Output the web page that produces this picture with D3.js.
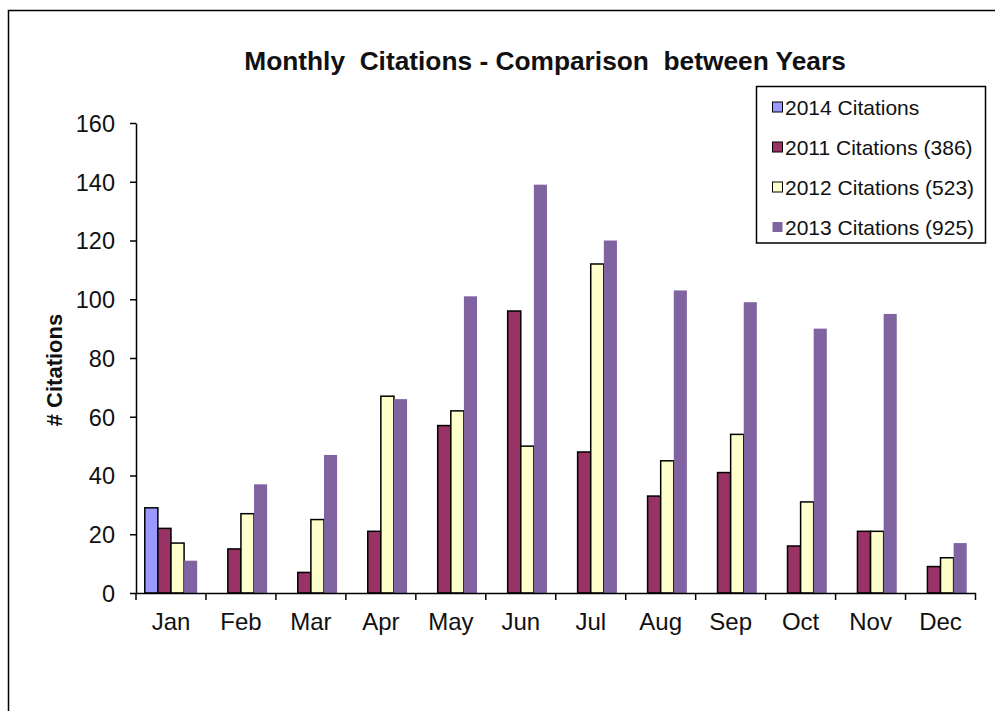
<!DOCTYPE html>
<html>
<head>
<meta charset="utf-8">
<script src="https://cdn.jsdelivr.net/npm/d3@7"></script>
<style>
  html, body { margin: 0; padding: 0; background: #fff; }
  svg { display: block; font-family: "Liberation Sans", Arial, sans-serif; }
</style>
</head>
<body>
<svg id="chart" width="995" height="711"></svg>
<script>
const months = ["Jan","Feb","Mar","Apr","May","Jun","Jul","Aug","Sep","Oct","Nov","Dec"];
const seriesNames = ["2014 Citations","2011 Citations (386)","2012 Citations (523)","2013 Citations (925)"];
const c2014 = [29, null, null, null, null, null, null, null, null, null, null, null];
const c2011 = [22, 15, 7, 21, 57, 96, 48, 33, 41, 16, 21, 9];
const c2012 = [17, 27, 25, 67, 62, 50, 112, 45, 54, 31, 21, 12];
const c2013 = [11, 37, 47, 66, 101, 139, 120, 103, 99, 90, 95, 17];
const yTicks = [0, 20, 40, 60, 80, 100, 120, 140, 160];
const colors = ["#9999FF", "#993366", "#FFFFCC", "#8064A2"];
const strokes = ["#000", "#000", "#000", "none"];

const seriesValues = [c2014, c2011, c2012, c2013];

const svg = d3.select("#chart");

// outer frame
svg.append("rect").attr("x", 8.5).attr("y", 10.5).attr("width", 1100).attr("height", 800)
  .attr("fill", "#fff").attr("stroke", "#000").attr("stroke-width", 1.5);

const x0 = d3.scaleBand().domain(months).range([136, 975.5]).padding(0);
const x1 = d3.scaleBand().domain(d3.range(4)).range([0, x0.bandwidth()]).paddingInner(0).paddingOuter(0.67);
const y = d3.scaleLinear().domain([0, 160]).range([593, 123]);

// bars
const data = [];
months.forEach((m, i) => {
  seriesValues.forEach((s, k) => {
    if (s[i] != null) data.push({ m, k, v: s[i] });
  });
});
svg.append("g").selectAll("rect").data(data).join("rect")
  .attr("x", d => x0(d.m) + x1(d.k))
  .attr("width", x1.bandwidth())
  .attr("y", d => y(d.v))
  .attr("height", d => y(0) - y(d.v))
  .attr("fill", d => colors[d.k])
  .attr("stroke", d => strokes[d.k])
  .attr("stroke-width", 1.5);

// y axis
const yAxis = svg.append("g").attr("transform", "translate(136,0)")
  .call(d3.axisLeft(y).tickValues(yTicks).tickSize(6).tickSizeOuter(0).tickPadding(15));
yAxis.select(".domain").attr("stroke", "#000").attr("stroke-width", 1.5);
yAxis.selectAll(".tick line").attr("stroke", "#000").attr("stroke-width", 1.5);
yAxis.selectAll(".tick text").attr("font-size", 23.5).attr("fill", "#111")
  .attr("font-family", "Liberation Sans, Arial, sans-serif").attr("dy", "0.36em");

// x axis
const xAxis = svg.append("g").attr("transform", "translate(0,593)")
  .call(d3.axisBottom(x0).tickSize(0).tickPadding(20));
xAxis.select(".domain").attr("stroke", "#000").attr("stroke-width", 1.5);
xAxis.selectAll(".tick text").attr("font-size", 24).attr("fill", "#111")
  .attr("font-family", "Liberation Sans, Arial, sans-serif");
// boundary ticks
const bounds = months.map(m => x0(m)).concat([x0(months[months.length - 1]) + x0.bandwidth()]);
xAxis.append("g").selectAll("line").data(bounds).join("line")
  .attr("x1", d => d).attr("x2", d => d).attr("y1", 0).attr("y2", 7)
  .attr("stroke", "#000").attr("stroke-width", 1.5);

// title
svg.append("text").attr("x", 545).attr("y", 70).attr("text-anchor", "middle")
  .attr("font-size", 26.3).attr("font-weight", "bold").attr("fill", "#111")
  .style("white-space", "pre")
  .text("Monthly  Citations - Comparison  between Years");

// y axis title
svg.append("text").attr("transform", "translate(62,370) rotate(-90)")
  .attr("text-anchor", "middle").attr("font-size", 22).attr("font-weight", "bold").attr("fill", "#111")
  .text("# Citations");

// legend
const lg = svg.append("g");
lg.append("rect").attr("x", 756.5).attr("y", 86.5).attr("width", 229).attr("height", 156.5)
  .attr("fill", "#fff").attr("stroke", "#000").attr("stroke-width", 1.5);
const rows = lg.selectAll("g.row").data(seriesNames).join("g").attr("class", "row")
  .attr("transform", (d, i) => `translate(0,${107 + i * 40})`);
rows.append("rect").attr("x", 772.5).attr("y", -5).attr("width", 10).attr("height", 10)
  .attr("fill", (d, i) => colors[i]).attr("stroke", (d, i) => strokes[i] === "none" ? "none" : "#000")
  .attr("stroke-width", 1);
rows.append("text").attr("x", 785).attr("y", 0).attr("dy", "0.36em")
  .attr("font-size", 21).attr("fill", "#111").text(d => d);
</script>
</body>
</html>
